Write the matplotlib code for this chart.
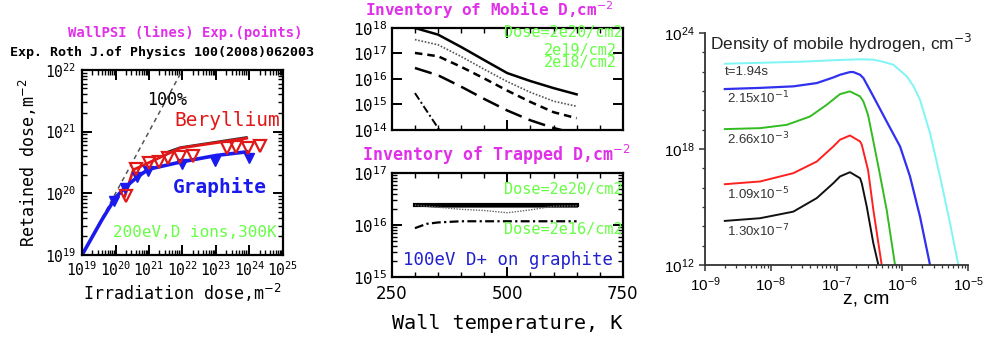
import matplotlib
matplotlib.use("Agg")
import matplotlib.pyplot as plt
from matplotlib.ticker import LogLocator, FixedLocator, MultipleLocator, NullFormatter

# ---------------- data: left panel (retention vs dose) ----------------
be_exp_x = [2.0e20, 4.1e20, 1.02e21, 2.0e21, 3.8e21, 8.5e21, 2.0e22, 2.1e23, 4.0e23, 9.1e23, 2.0e24]
be_exp_y = [9.2e19, 2.45e20, 3.1e20, 3.2e20, 3.7e20, 3.9e20, 4.0e20, 5.4e20, 5.6e20, 5.4e20, 5.9e20]
gr_exp_x = [9.2e19, 1.9e20, 4.3e20, 9.5e20, 1.0e22, 9.3e22, 1.0e24]
gr_exp_y = [7.6e19, 1.2e20, 1.86e20, 2.34e20, 2.95e20, 3.3e20, 3.8e20]
gr_sim_x = [1.0e19, 3.9e19, 1.0e20, 2.1e20, 4.3e20, 9.5e20, 8.5e21, 1.0e23, 8.3e23]
gr_sim_y = [1.0e19, 3.7e19, 8.5e19, 1.3e20, 1.8e20, 2.45e20, 3.2e20, 4.1e20, 4.7e20]
be_sim_x = [1.9e20, 3.4e20, 1.07e21, 8.5e21, 8.3e23]
be_sim_y = [9.0e19, 2.4e20, 3.2e20, 5.4e20, 7.8e20]
be_sim2_x = [3.8e21, 8.5e21, 8.3e23]
be_sim2_y = [4.8e20, 5.6e20, 8.2e20]
full_x = [1.0e19, 1.0e22]
full_y = [1.0e19, 1.0e22]

# ---------------- data: middle panels (inventory vs wall temperature) ----------------
T_mob = [300, 350, 400, 450, 500, 550, 600, 650]
mob_2e20 = [1.0e18, 5.5e17, 1.8e17, 5.5e16, 1.7e16, 8.3e15, 4.4e15, 2.5e15]
mob_a = [3.5e17, 2.2e17, 7.6e16, 2.4e16, 7.9e15, 3.0e15, 1.35e15, 8.5e14]
mob_b = [1.05e17, 7.8e16, 3.0e16, 1.05e16, 3.5e15, 1.26e15, 5.0e14, 2.9e14]
mob_c = [2.7e16, 1.4e16, 5.0e15, 1.65e15, 5.8e14, 2.4e14, 1.2e14, 7.0e13]
T_mob_d = [300, 350, 400]
mob_d = [2.8e15, 1.2e14, 5.0e12]

T_trap = [300, 325, 350, 400, 450, 500, 550, 600, 650]
trap_2e20 = [2.45e16, 2.45e16, 2.45e16, 2.45e16, 2.45e16, 2.45e16, 2.45e16, 2.45e16, 2.45e16]
trap_2e20b = [2.4e16, 2.35e16, 2.3e16, 2.3e16, 2.3e16, 2.3e16, 2.3e16, 2.3e16, 2.3e16]
trap_mid = [2.4e16, 2.3e16, 2.2e16, 2.0e16, 1.9e16, 1.72e16, 1.95e16, 2.3e16, 2.35e16]
trap_2e16 = [8.7e15, 1.05e16, 1.12e16, 1.18e16, 1.18e16, 1.18e16, 1.18e16, 1.18e16, 1.18e16]

# ---------------- data: right panel (mobile hydrogen profiles) ----------------
z_cyan = [2.0e-9, 3.16e-8, 1.0e-7, 2.28e-7, 3.63e-7, 5.01e-7, 7.31e-7, 1.17e-6, 1.48e-6,
          1.86e-6, 2.64e-6, 3.75e-6, 5.32e-6, 7.13e-6]
n_cyan = [2.57e22, 3.31e22, 3.98e22, 4.37e22, 4.17e22, 3.31e22, 2.29e22, 5.75e21, 1.78e21,
          3.55e20, 6.61e18, 3.80e16, 1.45e14, 1.0e12]
z_blue = [2.0e-9, 6.87e-9, 2.20e-8, 5.0e-8, 8.93e-8, 1.13e-7, 1.60e-7, 1.80e-7, 2.28e-7,
          2.56e-7, 3.63e-7, 5.79e-7, 9.25e-7, 1.31e-6, 1.86e-6, 2.64e-6]
n_blue = [1.26e21, 1.45e21, 1.74e21, 2.57e21, 5.01e21, 6.92e21, 9.55e21, 9.55e21, 6.92e21,
          4.68e21, 5.25e20, 2.63e19, 1.35e18, 3.80e16, 3.16e14, 1.0e12]
z_green = [2.0e-9, 6.87e-9, 1.75e-8, 3.95e-8, 7.1e-8, 1.13e-7, 1.60e-7, 2.28e-7, 2.56e-7,
           3.01e-7, 3.43e-7, 4.33e-7, 5.79e-7, 7.76e-7]
n_green = [1.07e19, 1.20e19, 1.78e19, 4.79e19, 1.95e20, 6.92e20, 9.55e20, 5.25e20, 2.88e20,
           5.89e19, 6.61e18, 1.23e17, 7.08e14, 1.0e12]
z_red = [2.0e-9, 6.87e-9, 2.20e-8, 5.0e-8, 8.93e-8, 1.13e-7, 1.60e-7, 2.28e-7, 2.42e-7,
         3.02e-7, 3.63e-7, 4.86e-7]
n_red = [1.51e16, 2.09e16, 5.62e16, 2.24e17, 1.35e18, 3.02e18, 5.01e18, 2.45e18, 1.66e18,
         7.94e16, 7.08e14, 1.0e12]
z_black = [2.0e-9, 6.87e-9, 2.20e-8, 5.0e-8, 8.93e-8, 1.13e-7, 1.60e-7, 2.28e-7, 2.42e-7,
           2.88e-7, 3.63e-7, 4.33e-7]
n_black = [1.91e14, 2.63e14, 5.75e14, 2.88e15, 1.70e16, 3.80e16, 6.31e16, 3.09e16, 1.70e16,
           1.05e15, 1.32e13, 1.0e12]
profile_labels = ["t=1.94s", "2.15x10$^{-1}$", "2.66x10$^{-3}$", "1.09x10$^{-5}$", "1.30x10$^{-7}$"]

MONO = "DejaVu Sans Mono"
SANS = "Liberation Sans"
MAG = "#e030e8"
GRN = "#66ff44"

fig = plt.figure(figsize=(9.87, 3.46), dpi=100)
fig.patch.set_facecolor("white")

def box_style(ax):
    for s in ax.spines.values():
        s.set_linewidth(1.6)
    ax.tick_params(which="both", direction="in", top=True, right=True,
                   labelfontfamily=MONO)
    ax.tick_params(which="major", length=7, width=1.4)
    ax.tick_params(which="minor", length=3.5, width=1.0)

# ---------------- left panel ----------------
axL = fig.add_axes([0.0831, 0.263, 0.2036, 0.535])
axL.set_xscale("log"); axL.set_yscale("log")
axL.set_xlim(1e19, 1e25); axL.set_ylim(1e19, 1e22)
axL.plot(full_x, full_y, ls=(0, (3, 2.5)), color="#555555", lw=1.1)
axL.plot(be_sim2_x, be_sim2_y, color="#333333", lw=1.2)
axL.plot(be_sim_x, be_sim_y, color="#e01818", lw=2.0)
axL.plot(gr_sim_x, gr_sim_y, color="#1a1aee", lw=2.6)
axL.plot(gr_exp_x, gr_exp_y, ls="none", marker="v", ms=7, color="#1a1aee")
axL.plot(be_exp_x, be_exp_y, ls="none", marker="v", ms=9, mfc="none",
         mec="#e01818", mew=1.6)
box_style(axL)
axL.xaxis.set_major_locator(LogLocator(base=10, numticks=10))
axL.xaxis.set_minor_locator(LogLocator(base=10, subs=range(2, 10), numticks=100))
axL.xaxis.set_minor_formatter(NullFormatter())
axL.yaxis.set_minor_formatter(NullFormatter())
axL.tick_params(axis="both", which="major", labelsize=10.5, pad=4)
axL.set_xlabel("Irradiation dose,m$^{-2}$", fontfamily=MONO, fontsize=12, labelpad=2)
axL.set_ylabel("Retained dose,m$^{-2}$", fontfamily=MONO, fontsize=12, labelpad=4)
axL.text(0.423, 0.838, "100%", transform=axL.transAxes, fontfamily=MONO,
         fontsize=12, ha="center", va="center", color="black")
axL.text(0.985, 0.724, "Beryllium", transform=axL.transAxes, fontfamily=MONO,
         fontsize=14, ha="right", va="center", color="#e01818")
axL.text(0.453, 0.368, "Graphite", transform=axL.transAxes, fontfamily=MONO,
         fontsize=14, ha="left", va="center", color="#1a1aee", fontweight="bold")
axL.text(0.154, 0.119, "200eV,D ions,300K", transform=axL.transAxes, fontfamily=MONO,
         fontsize=11.5, ha="left", va="center", color=GRN)
fig.text(0.1874, 0.905, "WallPSI (lines) Exp.(points)", fontfamily=MONO,
         fontsize=10, fontweight="bold", color=MAG, ha="center", va="center")
fig.text(0.164, 0.847, "Exp. Roth J.of Physics 100(2008)062003", fontfamily=MONO,
         fontsize=9.6, fontweight="bold", color="black", ha="center", va="center")

# ---------------- middle top panel ----------------
axM1 = fig.add_axes([0.397, 0.6243, 0.234, 0.2948])
axM1.set_yscale("log")
axM1.set_xlim(250, 750); axM1.set_ylim(1e14, 1e18)
axM1.plot(T_mob, mob_2e20, color="black", lw=1.8)
axM1.plot(T_mob, mob_a, color="#555555", lw=1.2, ls=(0, (1, 1)))
axM1.plot(T_mob, mob_b, color="black", lw=1.8, ls=(0, (3, 2)))
axM1.plot(T_mob, mob_c, color="black", lw=1.8, ls=(0, (7, 3)))
axM1.plot(T_mob_d, mob_d, color="black", lw=1.4, ls=(0, (4, 1.5, 1, 1.5)))
box_style(axM1)
axM1.xaxis.set_major_locator(FixedLocator([250, 500, 750]))
axM1.xaxis.set_minor_locator(MultipleLocator(50))
axM1.tick_params(axis="x", labelbottom=False)
axM1.yaxis.set_major_locator(LogLocator(base=10, numticks=10))
axM1.yaxis.set_minor_formatter(NullFormatter())
axM1.tick_params(axis="y", which="major", labelsize=11.5)
axM1.text(1.0, 0.951, "Dose=2e20/cm2", transform=axM1.transAxes, fontfamily=MONO,
          fontsize=11, color=GRN, ha="right", va="center")
axM1.text(0.974, 0.784, "2e19/cm2", transform=axM1.transAxes, fontfamily=MONO,
          fontsize=11, color=GRN, ha="right", va="center")
axM1.text(0.974, 0.657, "2e18/cm2", transform=axM1.transAxes, fontfamily=MONO,
          fontsize=11, color=GRN, ha="right", va="center")
fig.text(0.370, 0.972, "Inventory of Mobile D,cm$^{-2}$", fontfamily=MONO,
         fontsize=11.5, fontweight="bold", color=MAG, ha="left", va="center")

# ---------------- middle bottom panel ----------------
axM2 = fig.add_axes([0.397, 0.1994, 0.234, 0.3006])
axM2.set_yscale("log")
axM2.set_xlim(250, 750); axM2.set_ylim(1e15, 1e17)
axM2.plot(T_trap, trap_2e20b, color="black", lw=2.0)
axM2.plot(T_trap, trap_2e20, color="black", lw=3.0)
axM2.plot(T_trap, trap_mid, color="#666666", lw=1.0, ls=(0, (1, 1)))
axM2.plot(T_trap, trap_2e16, color="black", lw=1.6, ls=(0, (4, 1.5, 1, 1.5)))
box_style(axM2)
axM2.xaxis.set_major_locator(FixedLocator([250, 500, 750]))
axM2.xaxis.set_minor_locator(MultipleLocator(50))
axM2.yaxis.set_major_locator(LogLocator(base=10, numticks=10))
axM2.yaxis.set_minor_formatter(NullFormatter())
axM2.tick_params(axis="both", which="major", labelsize=11.5)
axM2.tick_params(axis="x", labelfontfamily="DejaVu Sans", labelsize=12, pad=6)
axM2.set_xlabel("Wall temperature, K", fontfamily=MONO, fontsize=14.5, labelpad=8)
axM2.text(1.0, 0.837, "Dose=2e20/cm2", transform=axM2.transAxes, fontfamily=MONO,
          fontsize=11, color=GRN, ha="right", va="center")
axM2.text(1.0, 0.452, "Dose=2e16/cm2", transform=axM2.transAxes, fontfamily=MONO,
          fontsize=11, color=GRN, ha="right", va="center")
axM2.text(0.048, 0.163, "100eV D+ on graphite", transform=axM2.transAxes,
          fontfamily=MONO, fontsize=12.5, color="#2020cc", ha="left", va="center")
fig.text(0.367, 0.552, "Inventory of Trapped D,cm$^{-2}$", fontfamily=MONO,
         fontsize=12, fontweight="bold", color=MAG, ha="left", va="center")

# ---------------- right panel ----------------
axR = fig.add_axes([0.7143, 0.2341, 0.2665, 0.6705])
axR.set_xscale("log"); axR.set_yscale("log")
axR.set_xlim(1e-9, 1e-5); axR.set_ylim(1e12, 1e24)
axR.plot(z_cyan, n_cyan, color="#7ff5f5", lw=1.4)
axR.plot(z_blue, n_blue, color="#3030ee", lw=1.6)
axR.plot(z_green, n_green, color="#33bb22", lw=1.4)
axR.plot(z_red, n_red, color="#ff2020", lw=1.4)
axR.plot(z_black, n_black, color="#111111", lw=1.4)
for s in ["top", "right"]:
    axR.spines[s].set_visible(False)
for s in ["left", "bottom"]:
    axR.spines[s].set_linewidth(1.3)
    axR.spines[s].set_color("#333333")
axR.xaxis.set_major_locator(LogLocator(base=10, numticks=10))
axR.xaxis.set_minor_locator(LogLocator(base=10, subs=range(2, 10), numticks=100))
axR.xaxis.set_minor_formatter(NullFormatter())
axR.yaxis.set_major_locator(FixedLocator([1e12, 1e18, 1e24]))
axR.yaxis.set_minor_locator(FixedLocator([10.0 ** k for k in range(13, 24)]))
axR.yaxis.set_minor_formatter(NullFormatter())
axR.tick_params(which="both", direction="out", labelfontfamily=SANS, color="#333333")
axR.tick_params(which="major", length=4, width=1.1, labelsize=11)
axR.tick_params(which="minor", length=2.5, width=0.9)
axR.set_xlabel("z, cm", fontfamily=SANS, fontsize=14, labelpad=-3)
axR.xaxis.set_label_coords(0.612, -0.108)
axR.text(0.019, 0.957, "Density of mobile hydrogen, cm$^{-3}$", transform=axR.transAxes,
         fontfamily=SANS, fontsize=12.5, ha="left", va="center", color="#222222")
lab_pos = [(0.076, 0.832), (0.084, 0.72), (0.084, 0.543), (0.084, 0.306), (0.084, 0.147)]
for (lx, ly), lab in zip(lab_pos, profile_labels):
    axR.text(lx, ly, lab, transform=axR.transAxes, fontfamily=SANS, fontsize=9.5,
             ha="left", va="center", color="#333333")

fig.savefig("out.png", dpi=100, facecolor="white")
